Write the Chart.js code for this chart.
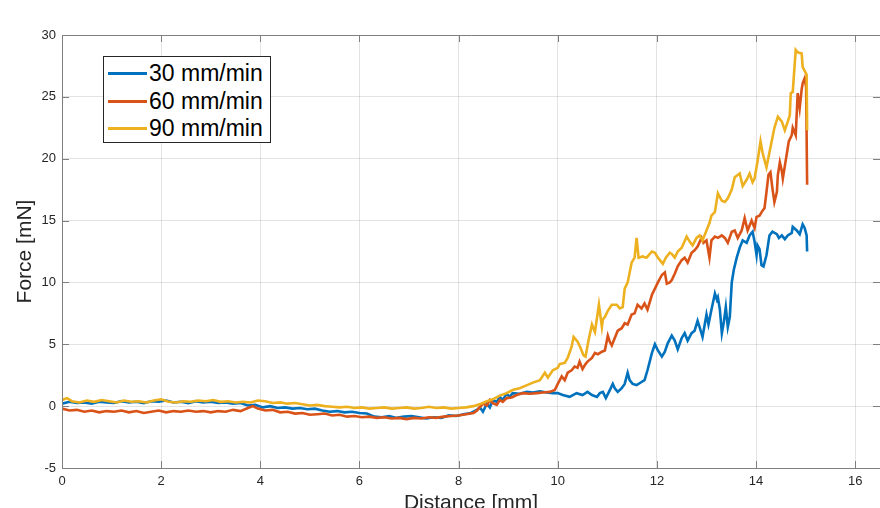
<!DOCTYPE html>
<html>
<head>
<meta charset="utf-8">
<script src="https://cdn.jsdelivr.net/npm/chart.js@4"></script>
<style>
  html, body { margin: 0; padding: 0; background: #fff; }
  #wrap { position: relative; width: 880px; height: 508px; overflow: hidden; }
  #legend {
    position: absolute; left: 103px; top: 56px; width: 168px; height: 87px;
    border: 1px solid #262626; background: #fff; box-sizing: border-box;
    font-family: "Liberation Sans", Arial, sans-serif; font-size: 23px; color: #000;
  }
  #legend .row { position: absolute; left: 0; height: 28px; line-height: 28px; white-space: nowrap; }
  #legend .swatch { position: absolute; left: 4px; top: 13px; width: 39px; height: 3px; }
  #legend .lbl { position: absolute; left: 45px; top: 0; }
</style>
</head>
<body>
<div id="wrap">
  <canvas id="forceChart" width="880" height="530"></canvas>
  <div id="legend"></div>
</div>
<script>
const seriesNames = ["30 mm/min", "60 mm/min", "90 mm/min"];
const seriesColors = ["#0072BD", "#D95319", "#EDB120"];
const xTicks = [0, 2, 4, 6, 8, 10, 12, 14, 16];
const yTicks = [-5, 0, 5, 10, 15, 20, 25, 30];

const blueX = [0, 0.15, 0.3, 0.45, 0.6, 0.75, 0.9, 1.05, 1.2, 1.35, 1.5, 1.65, 1.8, 1.95, 2.1, 2.25, 2.4, 2.55, 2.7, 2.85,
  3.0, 3.15, 3.3, 3.45, 3.6, 3.75, 3.9, 4.05, 4.2, 4.35, 4.5, 4.65, 4.8, 4.95, 5.1, 5.25, 5.4, 5.55, 5.7, 5.85,
  6.0, 6.15, 6.3, 6.45, 6.6, 6.75, 6.9, 7.05, 7.2, 7.35, 7.5, 7.65, 7.8, 7.95, 8.1, 8.25,
  8.37, 8.43, 8.49, 8.57, 8.63, 8.69, 8.77, 8.83, 8.89, 8.97, 9.03, 9.09, 9.23, 9.38, 9.5, 9.64, 9.78, 9.9, 10.0,
  10.1, 10.24, 10.38, 10.5, 10.6, 10.69, 10.79, 10.85, 10.91, 10.97, 11.05, 11.11, 11.15, 11.21, 11.29, 11.35, 11.41, 11.45,
  11.51, 11.59, 11.69, 11.75, 11.81, 11.9, 11.96, 12.02, 12.1, 12.16, 12.22, 12.3, 12.36, 12.42, 12.5, 12.56, 12.62,
  12.7, 12.76, 12.82, 12.86, 12.92, 13.0, 13.04, 13.1, 13.17, 13.21, 13.23, 13.27, 13.31, 13.35, 13.39, 13.43, 13.47,
  13.51, 13.55, 13.61, 13.67, 13.73, 13.81, 13.87, 13.93, 13.97, 14.01, 14.03, 14.07, 14.11, 14.15, 14.21, 14.27, 14.33,
  14.42, 14.46, 14.52, 14.58, 14.64, 14.72, 14.74, 14.82, 14.88, 14.94, 14.98, 15.02, 15.03];
const blueY = [0.2, 0.35, 0.25, 0.3, 0.2, 0.35, 0.3, 0.25, 0.4, 0.3, 0.35, 0.25, 0.4, 0.35, 0.45, 0.3, 0.35, 0.25, 0.4, 0.3,
  0.35, 0.25, 0.3, 0.2, 0.25, 0.05, 0.1, -0.1, 0.0, -0.15, -0.1, -0.2, -0.15, -0.25, -0.2, -0.35, -0.45, -0.4, -0.5, -0.45,
  -0.55, -0.6, -0.85, -0.9, -0.8, -0.95, -0.85, -0.8, -0.9, -1.0, -0.9, -0.95, -0.75, -0.8, -0.65, -0.55,
  -0.3, -0.1, -0.45, 0.2, -0.1, 0.5, 0.35, 0.75, 0.5, 1.0, 0.75, 1.05, 1.0, 1.15, 1.1, 1.2, 1.1, 1.05, 1.05,
  0.9, 0.75, 1.05, 0.9, 1.15, 0.9, 0.75, 1.05, 1.15, 0.65, 1.3, 1.8, 1.45, 1.15, 1.45, 1.8, 2.7, 2.1,
  1.8, 1.7, 1.95, 2.1, 2.9, 4.3, 5.0, 4.5, 4.0, 4.4, 5.1, 5.7, 5.3, 4.6, 5.5, 5.9, 5.3,
  5.9, 6.1, 6.9, 6.4, 5.6, 7.4, 6.6, 7.8, 9.1, 8.6, 8.8, 7.8, 5.9, 6.8, 8.0, 6.4, 7.2,
  10.0, 11.0, 12.0, 12.8, 13.4, 13.2, 13.8, 14.1, 13.3, 12.2, 13.0, 12.7, 11.4, 11.3, 12.2, 13.8, 14.1,
  13.9, 13.6, 13.8, 13.5, 13.8, 14.0, 14.5, 14.2, 13.9, 14.7, 14.4, 13.8, 12.5];

const orangeX = [0, 0.15, 0.3, 0.45, 0.6, 0.75, 0.9, 1.05, 1.2, 1.35, 1.5, 1.65, 1.8, 1.95, 2.1, 2.25, 2.4, 2.55, 2.7, 2.85,
  3.0, 3.15, 3.3, 3.45, 3.6, 3.75, 3.85, 3.95, 4.1, 4.25, 4.4, 4.55, 4.7, 4.85, 5.0, 5.15, 5.3, 5.45, 5.6, 5.75, 5.9,
  6.05, 6.2, 6.35, 6.5, 6.65, 6.8, 6.95, 7.1, 7.25, 7.4, 7.55, 7.7, 7.85, 8.0, 8.15, 8.3,
  8.37, 8.49, 8.57, 8.63, 8.69, 8.77, 8.83, 8.89, 8.97, 9.07, 9.17, 9.29, 9.44, 9.58, 9.7, 9.84, 9.94, 10.0,
  10.08, 10.14, 10.2, 10.28, 10.34, 10.4, 10.44, 10.5, 10.56, 10.6, 10.69, 10.75, 10.81, 10.89, 10.95, 11.01, 11.05,
  11.09, 11.15, 11.21, 11.29, 11.35, 11.41, 11.49, 11.55, 11.61, 11.69, 11.75, 11.81, 11.9, 11.96, 12.02, 12.1, 12.16,
  12.2, 12.26, 12.3, 12.36, 12.42, 12.5, 12.56, 12.62, 12.7, 12.76, 12.82, 12.9, 12.94, 13.0, 13.06, 13.1, 13.17,
  13.23, 13.31, 13.37, 13.43, 13.51, 13.57, 13.63, 13.71, 13.77, 13.83, 13.91, 13.97, 14.01, 14.07, 14.13, 14.17,
  14.21, 14.25, 14.29, 14.33, 14.37, 14.42, 14.44, 14.48, 14.52, 14.54, 14.58, 14.62, 14.66, 14.72, 14.74, 14.8,
  14.84, 14.88, 14.92, 14.94, 14.98, 15.01, 15.03];
const orangeY = [-0.2, -0.35, -0.3, -0.45, -0.35, -0.5, -0.4, -0.45, -0.35, -0.5, -0.4, -0.55, -0.45, -0.35, -0.5, -0.4, -0.45, -0.35, -0.45, -0.4,
  -0.5, -0.4, -0.45, -0.3, -0.4, -0.15, 0.0, -0.2, -0.35, -0.3, -0.5, -0.45, -0.6, -0.55, -0.7, -0.65, -0.6, -0.75, -0.7, -0.85, -0.8,
  -0.9, -0.85, -0.95, -0.9, -1.0, -0.95, -1.05, -0.95, -1.0, -0.9, -0.95, -0.85, -0.8, -0.75, -0.65, -0.55,
  -0.35, 0.2, 0.05, 0.5, 0.25, 0.1, 0.5, 0.35, 0.65, 0.7, 0.9, 1.05, 1.0, 1.05, 1.1, 1.15, 1.3, 1.8,
  2.4, 2.1, 2.7, 2.9, 3.2, 3.1, 3.6, 3.0, 3.4, 3.6, 3.9, 4.3, 4.2, 4.4, 4.5, 5.7, 5.2,
  4.9, 5.5, 6.1, 6.3, 6.7, 6.6, 7.4, 7.5, 8.2, 7.9, 8.3, 7.8, 9.0, 9.5, 10.0, 10.6, 10.8,
  9.9, 10.0, 10.2, 10.7, 11.3, 11.8, 12.0, 11.6, 12.4, 12.6, 12.9, 13.6, 13.2, 13.4, 12.0, 13.4, 13.7,
  13.6, 13.8, 13.6, 13.2, 14.1, 14.2, 13.6, 14.2, 15.2, 14.2, 15.0, 14.4, 15.3, 15.4, 15.8, 16.0,
  17.3, 18.7, 18.9, 17.6, 16.5, 17.3, 18.7, 19.7, 19.0, 18.4, 19.4, 20.4, 21.4, 21.9, 22.5, 21.9,
  25.3, 24.1, 25.6, 26.1, 26.5, 25.8, 17.9];

const yellowX = [0, 0.1, 0.2, 0.35, 0.5, 0.65, 0.8, 0.95, 1.1, 1.25, 1.4, 1.55, 1.7, 1.85, 2.0, 2.15, 2.3, 2.45, 2.6, 2.75,
  2.9, 3.05, 3.2, 3.35, 3.5, 3.65, 3.8, 3.95, 4.1, 4.25, 4.4, 4.55, 4.7, 4.85, 5.0, 5.15, 5.3, 5.45, 5.6, 5.75, 5.9,
  6.05, 6.2, 6.35, 6.5, 6.65, 6.8, 6.95, 7.1, 7.25, 7.4, 7.55, 7.7, 7.85, 8.0, 8.15, 8.3, 8.45,
  8.57, 8.69, 8.83, 8.97, 9.09, 9.23, 9.38, 9.5, 9.64, 9.74, 9.8, 9.9, 10.0, 10.04, 10.14, 10.2, 10.28, 10.32,
  10.4, 10.46, 10.52, 10.56, 10.62, 10.69, 10.75, 10.83, 10.89, 10.91, 10.95, 11.01, 11.09, 11.19, 11.25, 11.31,
  11.35, 11.41, 11.49, 11.55, 11.59, 11.63, 11.71, 11.79, 11.9, 11.96, 12.02, 12.08, 12.12, 12.18, 12.26, 12.3,
  12.36, 12.42, 12.5, 12.6, 12.66, 12.72, 12.8, 12.86, 12.92, 13.0, 13.06, 13.1, 13.17, 13.23, 13.31, 13.37,
  13.43, 13.51, 13.57, 13.67, 13.73, 13.81, 13.87, 13.93, 13.97, 14.03, 14.09, 14.13, 14.21, 14.29, 14.37, 14.44,
  14.52, 14.58, 14.64, 14.68, 14.7, 14.74, 14.8, 14.84, 14.92, 14.94, 15.02, 15.03];
const yellowY = [0.5, 0.65, 0.4, 0.3, 0.45, 0.35, 0.5, 0.4, 0.3, 0.45, 0.35, 0.4, 0.3, 0.45, 0.55, 0.35, 0.3, 0.4, 0.35, 0.45,
  0.4, 0.5, 0.35, 0.4, 0.3, 0.35, 0.3, 0.45, 0.4, 0.25, 0.3, 0.2, 0.25, 0.15, 0.05, 0.1, 0.0, -0.05, -0.1, -0.05, -0.15,
  -0.1, -0.2, -0.15, -0.1, -0.2, -0.15, -0.1, -0.2, -0.15, -0.05, -0.15, -0.1, -0.2, -0.15, -0.1, 0.0, 0.2,
  0.4, 0.55, 0.85, 1.05, 1.3, 1.45, 1.7, 1.9, 2.1, 2.7, 2.3, 2.9, 3.1, 3.4, 3.5, 3.9, 4.8, 5.6,
  5.2, 4.7, 4.1, 4.0, 5.3, 6.6, 6.0, 8.2, 6.4, 7.0, 7.2, 7.7, 8.2, 8.2, 7.9, 8.0,
  9.5, 10.0, 11.6, 12.0, 13.6, 12.0, 12.1, 12.0, 12.5, 12.4, 12.0, 11.7, 11.5, 12.0, 12.4, 12.3,
  12.0, 12.5, 12.8, 13.7, 13.3, 13.0, 13.6, 13.8, 13.4, 14.2, 14.8, 15.4, 15.7, 17.2, 16.6, 16.5,
  16.8, 17.5, 18.5, 18.8, 17.8, 18.3, 18.8, 18.1, 18.4, 19.8, 21.4, 20.5, 19.3, 20.9, 22.5, 23.4,
  23.0, 22.3, 23.0, 23.5, 25.3, 25.4, 28.8, 28.6, 28.5, 27.4, 26.8, 22.3];

const seriesX = [blueX, orangeX, yellowX];
const seriesY = [blueY, orangeY, yellowY];

// html legend, boxed, inside the axes like matlab
const legendEl = document.getElementById("legend");
seriesNames.forEach((name, i) => {
  const row = document.createElement("div");
  row.className = "row";
  row.style.top = (2 + i * 27.7) + "px";
  row.innerHTML = '<span class="swatch" style="background:' + seriesColors[i] + '"></span><span class="lbl">' + name + '</span>';
  legendEl.appendChild(row);
});

// box round the axes + inward tick marks on all four sides
const axesBox = {
  id: "axesBox",
  afterDatasetsDraw(chart) {
    const { ctx, chartArea: a, scales } = chart;
    ctx.save();
    ctx.strokeStyle = "#7f7f7f";
    ctx.lineWidth = 1;
    ctx.beginPath();
    ctx.rect(a.left + 0.5, a.top + 0.5, a.right - a.left, a.bottom - a.top);
    xTicks.forEach(v => {
      const px = Math.round(scales.x.getPixelForValue(v)) + 0.5;
      ctx.moveTo(px, a.bottom); ctx.lineTo(px, a.bottom - 7);
      ctx.moveTo(px, a.top); ctx.lineTo(px, a.top + 7);
    });
    yTicks.forEach(v => {
      const py = Math.round(scales.y.getPixelForValue(v)) + 0.5;
      ctx.moveTo(a.left, py); ctx.lineTo(a.left + 7, py);
      ctx.moveTo(a.right, py); ctx.lineTo(a.right - 7, py);
    });
    ctx.stroke();
    ctx.restore();
  }
};

const tickFont = { family: "'Liberation Sans', Arial, sans-serif", size: 13 };
const titleFont = { family: "'Liberation Sans', Arial, sans-serif", size: 21 };

new Chart(document.getElementById("forceChart"), {
  type: "line",
  data: {
    datasets: seriesNames.map((name, i) => ({
      label: name,
      data: seriesX[i].map((x, j) => ({ x: x, y: seriesY[i][j] })),
      borderColor: seriesColors[i],
      borderWidth: 2.6,
      pointRadius: 0,
      tension: 0,
      fill: false,
      order: seriesNames.length - i,
    })),
  },
  options: {
    responsive: false,
    animation: false,
    layout: { padding: { top: 35, right: 0, left: 0, bottom: 0 } },
    plugins: {
      legend: { display: false },
      tooltip: { enabled: false },
    },
    scales: {
      x: {
        type: "linear",
        min: 0,
        max: 16.5,
        afterBuildTicks: s => { s.ticks = xTicks.map(v => ({ value: v })); },
        afterFit: s => { s.height = 62; },
        grid: { color: "rgba(38,38,38,0.13)", drawTicks: false },
        border: { display: false },
        ticks: { color: "#262626", font: tickFont, padding: 6, maxRotation: 0 },
        title: { display: true, text: "Distance [mm]", color: "#262626", font: titleFont, padding: { top: 0, bottom: 14 } },
      },
      y: {
        type: "linear",
        min: -5,
        max: 30,
        afterBuildTicks: s => { s.ticks = yTicks.map(v => ({ value: v })); },
        afterFit: s => { s.width = 62; },
        grid: { color: "rgba(38,38,38,0.13)", drawTicks: false },
        border: { display: false },
        ticks: { color: "#262626", font: tickFont, padding: 6 },
        title: { display: true, text: "Force [mN]", color: "#262626", font: titleFont, padding: { top: 13, bottom: 0 } },
      },
    },
  },
  plugins: [axesBox],
});
</script>
</body>
</html>
